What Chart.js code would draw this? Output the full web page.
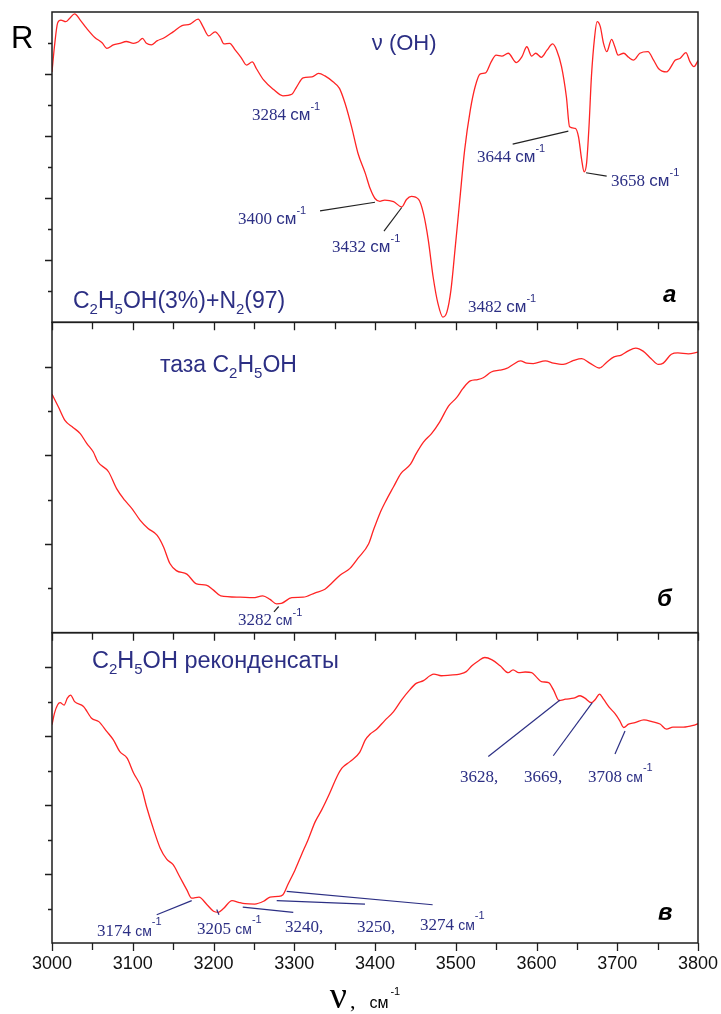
<!DOCTYPE html>
<html>
<head>
<meta charset="utf-8">
<script src="https://cdn.jsdelivr.net/npm/chart.js@4.4.1/dist/chart.umd.min.js"></script>
<style>
  html, body { margin: 0; padding: 0; background: #fff; }
  #wrap { width: 721px; height: 1014px; position: relative; }
  canvas { display: block; }
</style>
</head>
<body>
<div id="wrap"><canvas id="c" width="721" height="1014"></canvas></div>
<script>
// ---------- data (wavenumber, cm-1 / reflectance in arbitrary units) ----------
const xTicks = [3000, 3100, 3200, 3300, 3400, 3500, 3600, 3700, 3800];

// panel a : C2H5OH(3%)+N2(97)
const waveA = [3000,3003,3007,3011,3017,3022,3028,3035,3043,3053,3062,3068,3076,3084,3092,3101,3107,3112,3117,3123,
  3130,3139,3150,3161,3171,3181,3187,3194,3202,3208,3213,3220,3227,3234,3241,3248,3253,3262,3274,3286,
  3297,3303,3311,3322,3330,3338,3348,3356,3363,3371,3379,3388,3394,3400,3406,3412,3423,3433,3439,3445,
  3454,3460,3466,3472,3478,3484,3489,3494,3499,3505,3511,3518,3524,3530,3537,3544,3550,3557,3565,3575,
  3582,3588,3594,3599,3606,3613,3620,3625,3631,3637,3641,3648,3652,3656,3659,3662,3665,3668,3672,3675,
  3679,3683,3687,3693,3697,3701,3708,3714,3720,3728,3738,3745,3751,3761,3772,3778,3785,3790,3795,3800];
const reflA = [8.07,8.88,9.65,9.74,9.69,9.80,9.94,9.74,9.47,9.18,9.01,8.83,8.94,8.99,9.05,8.99,9.04,9.15,8.99,8.94,
  9.07,9.17,9.36,9.56,9.61,9.77,9.53,9.23,9.36,9.20,8.97,8.99,8.77,8.54,8.29,8.39,8.18,7.81,7.51,7.30,
  7.35,7.59,7.88,7.91,8.02,7.94,7.75,7.54,7.05,6.30,5.44,4.80,4.31,3.99,3.90,3.94,3.89,3.72,3.96,4.06,
  3.96,3.51,2.65,1.46,0.60,0.17,0.33,1.03,2.32,3.94,5.55,6.84,7.59,8.00,8.04,8.40,8.61,8.58,8.67,8.37,
  8.56,8.88,8.58,8.67,8.54,8.77,8.97,8.77,8.24,7.27,6.30,6.25,5.98,5.23,4.85,5.12,6.30,7.91,9.20,9.69,
  9.53,8.99,8.72,9.12,8.88,8.61,8.67,8.54,8.45,8.67,8.72,8.45,8.18,8.07,8.45,8.51,8.69,8.40,8.24,8.43];

// panel б : таза C2H5OH
const waveB = [3000,3008,3016,3026,3035,3043,3051,3057,3070,3080,3090,3099,3109,3119,3130,3138,3146,3154,3167,3179,
  3191,3200,3209,3233,3249,3261,3270,3278,3284,3297,3311,3326,3338,3346,3357,3369,3379,3392,3398,3406,
  3414,3423,3432,3444,3451,3460,3470,3480,3491,3501,3509,3518,3527,3534,3544,3554,3563,3571,3580,3588,
  3596,3611,3621,3633,3646,3656,3666,3678,3687,3696,3705,3713,3723,3732,3742,3751,3757,3767,3775,3788,3800];
const reflB = [5.38,5.09,4.79,4.63,4.49,4.27,4.08,3.85,3.63,3.25,2.99,2.80,2.54,2.35,2.20,1.94,1.56,1.40,1.32,1.10,
  1.07,0.96,0.83,0.80,0.79,0.83,0.75,0.65,0.66,0.79,0.80,0.90,0.98,1.11,1.30,1.45,1.68,2.00,2.31,2.69,
  2.99,3.29,3.59,3.80,4.04,4.30,4.49,4.75,5.11,5.30,5.51,5.68,5.71,5.75,5.88,5.92,5.96,6.05,6.13,6.08,
  6.07,6.13,6.08,6.05,6.14,6.18,6.08,5.97,6.10,6.22,6.26,6.35,6.42,6.35,6.18,6.05,6.08,6.28,6.31,6.29,6.33];

// panel в : C2H5OH реконденсаты
const waveC = [3000,3003,3007,3010,3015,3019,3023,3028,3039,3049,3058,3068,3076,3084,3093,3101,3111,3117,3126,3134,
  3142,3150,3158,3167,3173,3182,3192,3200,3206,3212,3223,3231,3239,3251,3262,3270,3280,3286,3292,3301,
  3309,3317,3326,3334,3344,3353,3359,3369,3381,3388,3394,3402,3412,3423,3433,3443,3451,3460,3468,3473,
  3482,3493,3505,3513,3520,3528,3536,3545,3555,3565,3571,3578,3586,3594,3600,3606,3615,3621,3628,3636,
  3646,3654,3660,3668,3673,3678,3683,3691,3697,3703,3708,3714,3722,3733,3743,3753,3761,3769,3782,3794,3800];
const reflC = [6.33,6.66,6.91,6.97,6.90,7.10,7.19,7.00,6.86,6.52,6.42,6.13,5.89,5.55,5.36,4.93,4.49,3.96,3.28,2.75,
  2.43,2.27,1.93,1.54,1.30,1.33,1.11,0.92,0.89,0.99,1.23,1.18,1.14,1.13,1.21,1.33,1.35,1.40,1.69,2.12,
  2.56,2.99,3.52,3.86,4.35,4.83,5.07,5.26,5.53,5.89,6.06,6.20,6.45,6.71,7.05,7.34,7.53,7.61,7.75,7.80,
  7.75,7.77,7.80,7.87,8.04,8.18,8.28,8.21,8.04,7.84,7.92,7.84,7.86,7.84,7.71,7.58,7.55,7.34,7.03,7.07,
  7.10,7.17,7.10,6.97,7.07,7.22,7.07,6.81,6.66,6.45,6.25,6.35,6.39,6.47,6.42,6.35,6.20,6.26,6.26,6.31,6.36];

// ---------- styles ----------
const RED = '#ff2424';
const NAVY = '#2c2f84';
const AXIS = '#1e1e1e';
const NUM = '17px "Liberation Serif"';
const CMA = '17px "Liberation Sans"';
const CMS = '14px "Liberation Sans"';
const SUP = '11px "Liberation Sans"';
const BIG = '22px "Liberation Sans"';
const BIGF = '23px "Liberation Sans"';
const BIGC = '23.5px "Liberation Sans"';
const SUBF = '15px "Liberation Sans"';
const TAG = 'italic bold 24px "Liberation Sans"';

const toXY = (w, r) => w.map((x, i) => ({ x, y: r[i] }));

// annotation texts, anchored in data coordinates of each panel
const notes = [
  { ax: 'yA', w: 3396, v: 8.77, parts: [['ν (OH)', BIG]] },
  { ax: 'yA', w: 3247.7, v: 6.52, parts: [['3284 ', NUM], ['см', CMA], ['-1', SUP, -10]] },
  { ax: 'yA', w: 3230.3, v: 3.16, parts: [['3400 ', NUM], ['см', CMA], ['-1', SUP, -10]] },
  { ax: 'yA', w: 3346.8, v: 2.26, parts: [['3432 ', NUM], ['см', CMA], ['-1', SUP, -10]] },
  { ax: 'yA', w: 3515.2, v: 0.32, parts: [['3482 ', NUM], ['см', CMA], ['-1', SUP, -10]] },
  { ax: 'yA', w: 3526.3, v: 5.16, parts: [['3644 ', NUM], ['см', CMA], ['-1', SUP, -10]] },
  { ax: 'yA', w: 3692.3, v: 4.39, parts: [['3658 ', NUM], ['см', CMA], ['-1', SUP, -10]] },
  { ax: 'yA', w: 3026, v: 0.45, parts: [['C', BIGF], ['2', SUBF, 6], ['H', BIGF], ['5', SUBF, 6], ['OH(3%)+N', BIGF], ['2', SUBF, 6], ['(97)', BIGF]] },
  { ax: 'yA', w: 3756.7, v: 0.65, parts: [['a', TAG]], color: '#000' },

  { ax: 'yB', w: 3133.7, v: 5.87, parts: [['таза C', BIGF], ['2', SUBF, 6], ['H', BIGF], ['5', SUBF, 6], ['OH', BIGF]] },
  { ax: 'yB', w: 3230.3, v: 0.17, parts: [['3282', NUM], [' см', CMS], ['-1', SUP, -9]] },
  { ax: 'yB', w: 3749.2, v: 0.60, parts: [['б', TAG]], color: '#000' },

  { ax: 'yC', w: 3049.5, v: 7.98, parts: [['C', BIGC], ['2', SUBF, 6], ['H', BIGC], ['5', SUBF, 6], ['OH реконденсаты', BIGC]] },
  { ax: 'yC', w: 3055.7, v: 0.21, parts: [['3174 ', NUM], ['см', CMS], ['-1', SUP, -11]] },
  { ax: 'yC', w: 3179.6, v: 0.27, parts: [['3205 ', NUM], ['см', CMS], ['-1', SUP, -11]] },
  { ax: 'yC', w: 3288.5, v: 0.33, parts: [['3240,', NUM]] },
  { ax: 'yC', w: 3377.7, v: 0.33, parts: [['3250,', NUM]] },
  { ax: 'yC', w: 3455.7, v: 0.39, parts: [['3274 ', NUM], ['см', CMS], ['-1', SUP, -11]] },
  { ax: 'yC', w: 3505.3, v: 4.67, parts: [['3628,', NUM]] },
  { ax: 'yC', w: 3584.5, v: 4.67, parts: [['3669,', NUM]] },
  { ax: 'yC', w: 3663.8, v: 4.67, parts: [['3708 ', NUM], ['см', CMS], ['-1', SUP, -11]] },
  { ax: 'yC', w: 3750.5, v: 0.68, parts: [['в', TAG]], color: '#000' }
];

// leader lines, anchored in data coordinates
const leaders = [
  { ax: 'yA', c: '#222', p: [[3331.9, 3.59], [3400, 3.87]] },
  { ax: 'yA', c: '#222', p: [[3411.1, 2.94], [3433.1, 3.70]] },
  { ax: 'yA', c: '#222', p: [[3570.5, 5.74], [3639.4, 6.16]] },
  { ax: 'yA', c: '#222', p: [[3661.3, 4.82], [3686.9, 4.71]] },
  { ax: 'yB', c: '#222', p: [[3274.9, 0.47], [3280.7, 0.59]] },
  { ax: 'yC', c: NAVY, p: [[3129.7, 0.82], [3173.0, 1.23]] },
  { ax: 'yC', c: NAVY, p: [[3204.0, 0.97], [3206.8, 0.82]] },
  { ax: 'yC', c: NAVY, p: [[3236.2, 1.04], [3298.8, 0.89]] },
  { ax: 'yC', c: NAVY, p: [[3278.3, 1.23], [3387.6, 1.13]] },
  { ax: 'yC', c: NAVY, p: [[3290.6, 1.50], [3471.4, 1.11]] },
  { ax: 'yC', c: NAVY, p: [[3540.3, 5.41], [3629.1, 7.05]] },
  { ax: 'yC', c: NAVY, p: [[3620.8, 5.43], [3669.1, 6.97]] },
  { ax: 'yC', c: NAVY, p: [[3697.2, 5.48], [3709.6, 6.15]] }
];

function rich(ctx, x, y, parts) {
  let cx = x;
  for (const [t, font, dy, gap] of parts) {
    ctx.font = font;
    ctx.fillText(t, cx, y + (dy || 0));
    cx += ctx.measureText(t).width + (gap || 0);
  }
}

const decor = {
  id: 'decor',
  afterDraw(chart) {
    const { ctx, chartArea: ca, scales } = chart;
    const X = scales.x;
    const panels = [scales.yA, scales.yB, scales.yC];
    ctx.save();
    // frames
    ctx.strokeStyle = AXIS;
    ctx.lineWidth = 1.5;
    panels.forEach(s => ctx.strokeRect(ca.left, s.top, ca.right - ca.left, s.bottom - s.top));
    // x ticks at the bottom of each panel (outward)
    ctx.lineWidth = 1.3;
    ctx.beginPath();
    panels.forEach(s => {
      for (let v = X.min; v <= X.max; v += 50) {
        const px = Math.round(X.getPixelForValue(v)) + 0.5;
        const len = v % 100 === 0 ? 8 : 7;
        ctx.moveTo(px, s.bottom);
        ctx.lineTo(px, s.bottom + len);
      }
    });
    // y ticks (left, outward), major every 2 units
    panels.forEach(s => {
      for (let v = s.min + 1; v < s.max; v++) {
        const py = Math.round(s.getPixelForValue(v)) + 0.5;
        const len = v % 2 === 0 ? 7 : 4;
        ctx.moveTo(ca.left - len, py);
        ctx.lineTo(ca.left, py);
      }
    });
    ctx.stroke();

    // leader lines
    ctx.lineWidth = 1.2;
    leaders.forEach(l => {
      const Y = scales[l.ax];
      ctx.strokeStyle = l.c;
      ctx.beginPath();
      l.p.forEach(([w, v], i) => {
        const px = X.getPixelForValue(w), py = Y.getPixelForValue(v);
        if (i === 0) ctx.moveTo(px, py); else ctx.lineTo(px, py);
      });
      ctx.stroke();
    });

    // annotation texts
    ctx.textBaseline = 'alphabetic';
    ctx.textAlign = 'left';
    notes.forEach(n => {
      const Y = scales[n.ax];
      ctx.fillStyle = n.color || NAVY;
      rich(ctx, X.getPixelForValue(n.w), Y.getPixelForValue(n.v), n.parts);
    });

    // axis titles
    ctx.fillStyle = '#000';
    ctx.font = '31px "Liberation Sans"';
    ctx.fillText('R', ca.left - 41, ca.top + 36);
    const tx = X.getPixelForValue(3344);
    const ty = chart.height - 6;
    rich(ctx, tx, ty, [['ν', '38px "Liberation Serif"', 0, 3], [',', '22px "Liberation Serif"', 0, 14],
      ['см', '16px "Liberation Sans"', 0, 2], ['-1', '11px "Liberation Sans"', -13]]);
    ctx.restore();
  }
};

const yCommon = (min, max, w) => ({
  type: 'linear', position: 'left', stack: 'panels', stackWeight: 1, weight: w,
  min, max,
  ticks: { display: false },
  grid: { drawOnChartArea: false, drawTicks: false },
  border: { display: false },
  afterFit: s => { s.width = 52; }
});

new Chart(document.getElementById('c'), {
  type: 'line',
  data: {
    datasets: [
      { label: 'a', data: toXY(waveA, reflA), yAxisID: 'yA' },
      { label: 'б', data: toXY(waveB, reflB), yAxisID: 'yB' },
      { label: 'в', data: toXY(waveC, reflC), yAxisID: 'yC' }
    ]
  },
  options: {
    responsive: false,
    animation: false,
    devicePixelRatio: 1,
    layout: { padding: { top: 12, right: 23, left: 0, bottom: 0 } },
    elements: {
      point: { radius: 0 },
      line: { borderColor: RED, borderWidth: 1.3, cubicInterpolationMode: 'monotone', fill: false }
    },
    plugins: { legend: { display: false }, tooltip: { enabled: false } },
    scales: {
      x: {
        type: 'linear', position: 'bottom', min: 3000, max: 3800,
        afterBuildTicks: s => { s.ticks = xTicks.map(v => ({ value: v })); },
        ticks: {
          callback: v => String(v), autoSkip: false, maxRotation: 0, padding: 10,
          color: '#111', font: { family: 'Liberation Sans', size: 18 }
        },
        grid: { drawOnChartArea: false, drawTicks: false },
        border: { display: false },
        afterFit: s => { s.height = 71; s.paddingLeft = 0; s.paddingRight = 0; }
      },
      yA: yCommon(0, 10, 3),
      yB: yCommon(0, 7, 2),
      yC: yCommon(0, 9, 1)
    }
  },
  plugins: [decor]
});
</script>
</body>
</html>
